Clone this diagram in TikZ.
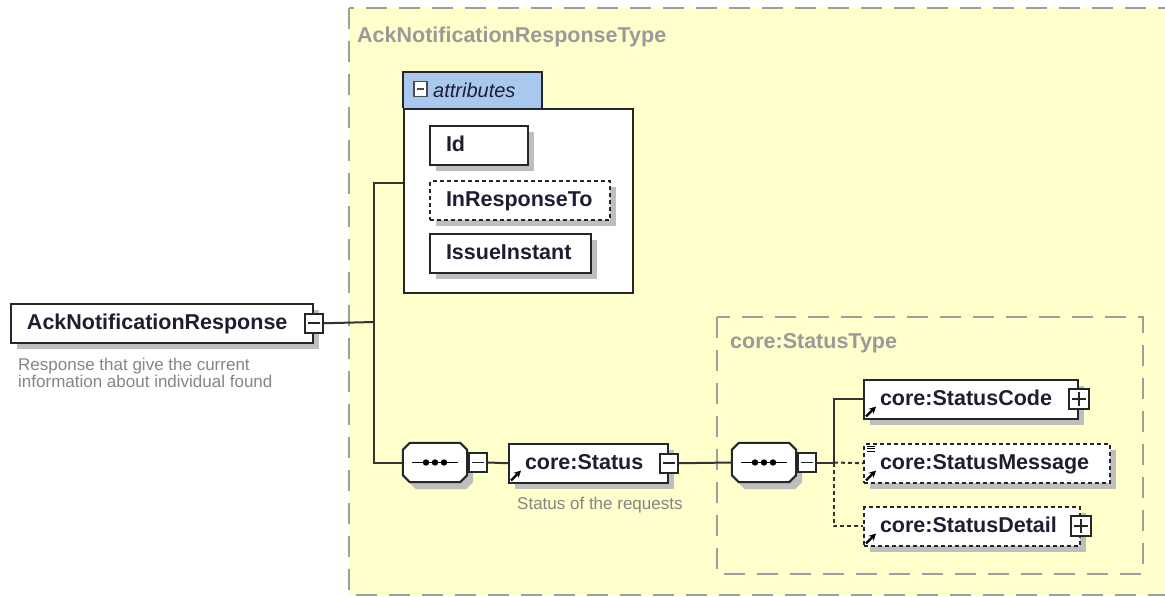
\documentclass[tikz,border=0pt]{standalone}
\usepackage{fontspec}
\setmainfont{Liberation Sans}
\usetikzlibrary{positioning,shadows,arrows.meta}
\definecolor{xsdyellow}{HTML}{FFFFCC}
\definecolor{xsdblue}{HTML}{A8C8F0}
\definecolor{xsdgray}{HTML}{9A9A9A}
\definecolor{xsdshadow}{HTML}{BEBEBE}
\definecolor{xsdink}{HTML}{1E1E32}
\newcommand{\eltxt}[2]{\makebox[#1pt][l]{#2}}
% octagon round a named node, shifted by (#2,#3)
\newcommand{\octpath}[3]{([shift={(#2+7pt,#3)}]#1.north west) -- ([shift={(#2-7pt,#3)}]#1.north east)
	-- ([shift={(#2,#3-7pt)}]#1.north east) -- ([shift={(#2,#3+7pt)}]#1.south east)
	-- ([shift={(#2-7pt,#3)}]#1.south east) -- ([shift={(#2+7pt,#3)}]#1.south west)
	-- ([shift={(#2,#3+7pt)}]#1.south west) -- ([shift={(#2,#3-7pt)}]#1.north west) -- cycle}
\tikzset{
	wire/.style={line width=2pt, draw=black!80},
	optline/.style={dash pattern=on 4pt off 3pt},
	region/.style={draw=black!38, line width=2.2pt, dash pattern=on 21pt off 12pt},
	typelabel/.style={anchor=west, inner sep=0, text=xsdgray, font=\fontsize{21.5}{24}\selectfont\bfseries},
	desc/.style={anchor=west, inner sep=0, align=left, text=black!48, font=\fontsize{17}{17}\selectfont},
	elem/.style={draw=black!85, line width=2pt, fill=white, anchor=north west, text=xsdink,
		inner xsep=16pt, inner ysep=0pt, minimum height=38.5pt, text height=17pt, text depth=4pt,
		font=\fontsize{21.5}{24}\selectfont\bfseries,
		drop shadow={shadow xshift=6pt, shadow yshift=-6pt, fill=xsdshadow, opacity=1}},
	opt/.style={elem, dash pattern=on 4pt off 3pt},
	minusbox/.style={draw=black!85, line width=1.8pt, fill=white, minimum width=18pt, minimum height=19pt, inner sep=0,
		path picture={\draw[line width=1.6pt] ([xshift=3pt]path picture bounding box.west) -- ([xshift=-3pt]path picture bounding box.east);}},
	plusbox/.style={minusbox, minimum width=20pt, minimum height=20pt,
		path picture={\draw[line width=1.6pt] ([xshift=3pt]path picture bounding box.west) -- ([xshift=-3pt]path picture bounding box.east)
			([yshift=-3pt]path picture bounding box.north) -- ([yshift=3pt]path picture bounding box.south);}},
	seq/.style={minimum width=64pt, minimum height=39pt, inner sep=0},
	seqline/.style={draw=black!85, line width=2pt, fill=white},
	boxline/.style={draw=black!85, line width=2pt},
	tab/.style={fill=xsdblue, anchor=north west, minimum height=36pt, text=xsdink,
		inner sep=0, font=\fontsize{20}{24}\selectfont\itshape},
	refarrow/.style={-{Stealth[length=7pt,width=7pt]}, line width=2.2pt}
}
\begin{document}
\begin{tikzpicture}[x=1pt,y=-1pt]
	\useasboundingbox (0,0) rectangle (1165,597);
	\clip (0,0) rectangle (1165,597);
	% complex type
	\draw[region, fill=xsdyellow] (349,8) rectangle (1200,595);
	\node[typelabel] (acktype) at (357,37) {AckNotificationResponseType};
	% root element
	\node[elem] (root) at (10,303) {\eltxt{270}{AckNotificationResponse}};
	\node[minusbox] (rootminus) at (root.east) {};
	\node[desc, anchor=north west] (rootdesc) at (18,358) {Response that give the current\\information about individual found};
	% attributes
	\node[boxline, fill=white, anchor=north west, minimum width=229pt, minimum height=184pt] (attrbox) at (403,108) {};
	\node[tab] (attrtab) at (403,72) {\hspace*{30pt}\eltxt{109}{attributes}};
	\draw[boxline] (attrtab.south west) |- (attrtab.north east) -- (attrtab.south east);
	\node[minusbox, draw=black!70, minimum width=13pt, minimum height=15pt, line width=1.4pt] (tabminus) at (420.5,89) {};
	\node[elem] (id) at (429,125) {\eltxt{66}{Id}};
	\node[opt] (inresp) at (429,180) {\eltxt{148}{InResponseTo}};
	\node[elem] (issue) at (429,233) {\eltxt{129}{IssueInstant}};
	% sequence
	\node[seq] (seq1) at (435,462.5) {};
	\node[seq] (seq2) at (764,462.5) {};
	\foreach \s in {seq1,seq2} {
		\fill[xsdshadow] \octpath{\s}{6pt}{-7pt};
		\draw[seqline] \octpath{\s}{0pt}{0pt};
		\draw[line width=1.8pt] ([xshift=-23pt]\s.center) -- ([xshift=23pt]\s.center);
		\foreach \dx in {-9,0,9}
			\fill ([xshift=\dx pt]\s.center) circle (3.2pt);
	}
	\node[minusbox, right=1pt of seq1] (seq1minus) {};
	\node[elem] (status) at (508,443) {\eltxt{127}{core:Status}};
	\node[minusbox] (statusminus) at (status.east) {};
	\node[desc] (statusdesc) at (517,505) {Status of the requests};
	\coordinate (fork) at (374,322);
	\coordinate (attrjoin) at (403,183);
	\draw[wire] (rootminus.east) -- (fork);
	\draw[wire] (attrjoin) -| (fork) |- (seq1.west);
	\draw[wire] (seq1minus.east) -- (status.west);
	% core:StatusType
	\draw[region] (717,317) rectangle (1143,574);
	\node[typelabel] (statustype) at (730,343) {core:StatusType};
	\node[minusbox, right=1pt of seq2] (seq2minus) {};
	\coordinate (fork2) at (834,462.5);
	\node[elem] (code) at (863,379) {\eltxt{182}{core:StatusCode}};
	\node[plusbox] (codeplus) at (code.east) {};
	\node[opt] (msg) at (863,443) {\eltxt{214}{core:StatusMessage}};
	\node[opt] (detail) at (863,506) {\eltxt{184}{core:StatusDetail}};
	\node[plusbox] (detailplus) at (detail.east) {};
	\draw[wire] (statusminus.east) -- (seq2.west);
	\draw[wire] (seq2minus.east) -- (fork2) |- (code.west);
	\draw[wire, optline] (fork2) -- (msg.west);
	\draw[wire, optline] (fork2) |- (detail.west);
	% reference arrows and list mark
	\foreach \n in {status,code,msg,detail}
		\draw[refarrow] ([shift={(3pt,3pt)}]\n.south west) -- ++(10pt,10pt);
	\foreach \d in {0,2.5,5}
		\draw[line width=0.9pt] ([shift={(4pt,-3pt-\d pt)}]msg.north west) -- ++(8pt,0pt);
\end{tikzpicture}
\end{document}
